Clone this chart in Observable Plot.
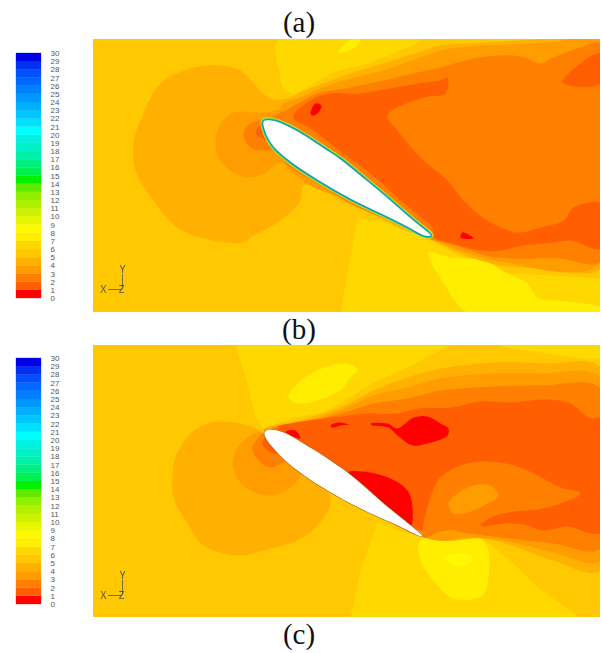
<!DOCTYPE html>
<html><head><meta charset="utf-8">
<script src="https://cdn.jsdelivr.net/npm/d3@7"></script>
<script src="https://cdn.jsdelivr.net/npm/@observablehq/plot@0.6"></script>
<style>
html,body{margin:0;padding:0;background:#fff}
#page{position:relative;width:602px;height:653px;overflow:hidden}
.cap{position:absolute;left:0;width:598px;text-align:center;font:29px "Liberation Serif",serif;color:#111;line-height:30px}
</style></head><body><div id="page"></div>
<script>
// colour-bar bands 0..29 and tick labels
const bands = d3.range(30);
const bandColors = ["#ff0000","#ff5f00","#ff8000","#ff9c00","#ffb000","#ffc800","#ffd800","#ffee00","#fff800",
 "#e6f600","#ccf200","#b0f000","#90f000","#60ea00","#00f000","#00f050","#00f080","#00f0a8","#00f0c8","#00f0e0",
 "#00ffff","#00e0ff","#00c8ff","#00b0ff","#0098ff","#0080ff","#0068ff","#0050ff","#0030f0","#0000e8"];
const barTicks = d3.range(31);
const captions = ["(a)","(b)","(c)"];

// Panel (a) contour bands: [x, y]
const aUpperYellow = [[278,39],[420,39],[393,53],[360,65],[333,72],[307,87],[293,93],[283,88],[280,77]];
const aUpperBright = [[338,52],[347,41],[360,39],[353,48]];
const aLowerYellow = [[357,218],[385,222],[410,232],[431,241],[460,256],[500,272],[550,275],[600,278],[600,312],[340,312]];
const aLowerBright = [[428,252],[450,257],[483,260],[507,273],[527,283],[537,297],[557,300],[600,307],[600,312],[467,312],[445,285]];
const aBand4 = [[133,142],[140,120],[160,83],[190,68],[220,65],[240,70],[253,83],[270,98],[287,98],[300,92],[317,85],[350,73],[383,63],[417,52],[440,45],[470,43],[500,41],[540,39],[600,39],[600,268],[550,268],[500,265],[460,253],[430,239],[400,228],[370,212],[340,200],[320,188],[303,185],[300,200],[280,220],[250,237],[243,242],[203,238],[177,227],[153,200],[135,170]];
const aBand3 = [[215,142],[220,123],[233,112],[263,112],[280,108],[283,103],[300,97],[320,88],[350,78],[383,70],[417,58],[440,50],[470,46],[510,44],[550,42],[600,40],[600,263],[500,261],[460,250],[430,238],[400,224],[370,208],[340,197],[310,185],[290,170],[280,162],[263,173],[247,177],[230,170],[218,157]];
const aBand2 = [[243,135],[247,125],[257,120],[263,119],[285,110],[297,103],[317,93],[350,87],[383,80],[417,72],[440,67],[473,58],[513,55],[527,58],[540,63],[553,57],[580,47],[600,43],[600,261],[560,258],[510,258],[490,256],[455,245],[425,237],[385,219],[350,203],[320,185],[290,167],[272,150],[260,150],[250,147]];
const aBand1Wake = [[295,112],[313,98],[330,93],[357,93],[390,88],[417,83],[440,80],[447,77],[445,93],[423,97],[387,115],[397,130],[420,157],[447,180],[463,200],[487,220],[517,232],[540,227],[563,220],[573,207],[600,203],[600,248],[570,240],[553,242],[523,245],[500,250],[480,250],[452,243],[432,236],[432,228],[400,200],[370,173],[340,151],[310,128],[293,118]];
const aBand1Corner = [[562,82],[580,63],[600,53],[600,83]];
const aBand1Nose = [[255,133],[260,125],[263,125],[270,142],[262,138]];
const aRedSpot = [[310,113],[315,103],[321,105],[317,113],[312,115]];
const aRedTick = [[460,237],[462,232],[468,234],[473,238]];
const aFoil = [[262,123],[263,120],[267,119],[275,120],[283,123],[297,130],[310,138],[325,148],[340,158],[367,180],[385,195],[400,208],[415,221],[431,235],[425,236],[405,226],[383,215],[350,199],[317,180],[290,162],[273,147],[266,136],[263,128]];

// Panel (b) contour bands
const bUpperYellow = [[235,345],[450,345],[433,353],[407,367],[373,382],[340,403],[323,412],[290,418],[263,428],[255,417],[247,383]];
const bRightYellow = [[500,345],[600,345],[600,357],[540,352]];
const bUpperBright = [[288,397],[297,383],[317,370],[340,363],[353,365],[357,370],[350,377],[340,390],[323,398],[297,403]];
const bLowerYellow = [[378,520],[395,530],[423,537],[487,542],[513,563],[537,587],[580,617],[350,617],[360,570]];
const bLowerBright = [[420,540],[483,540],[488,577],[482,595],[453,598],[433,580],[420,560]];
const bLowerBrighter = [[442,557],[457,553],[470,555],[473,560],[460,567],[450,563]];
const bNose4 = [[172,477],[175,457],[190,433],[210,422],[233,422],[253,427],[263,433],[330,497],[323,517],[303,537],[270,548],[237,555],[203,545],[187,523],[173,497]];
const bNose3 = [[232,463],[237,447],[250,435],[260,432],[300,472],[290,487],[270,495],[250,490],[237,478]];
const bNose2 = [[252,448],[257,438],[263,433],[285,458],[270,467],[258,460]];
const bNose1 = [[262,443],[265,437],[280,452],[270,452]];
const bBand4 = [[263,430],[300,420],[340,407],[373,390],[407,377],[440,368],[493,362],[547,363],[600,367],[600,570],[553,560],[520,548],[483,538],[427,538]];
const bBand3 = [[268,430],[300,422],[340,410],[373,395],[407,387],[440,378],[493,373],[540,373],[600,377],[600,560],[553,552],[503,540],[470,537],[427,538]];
const bBand2 = [[270,430],[300,423],[340,413],[373,403],[407,398],[440,390],[493,386],[540,385],[600,388],[600,548],[553,543],[500,537],[463,532],[440,528],[427,533]];
const bBand1 = [[277,427],[290,423],[323,418],[340,416],[367,413],[397,413],[417,408],[450,407],[480,401],[507,402],[547,399],[570,403],[590,418],[600,418],[600,532],[587,532],[567,526],[543,530],[523,524],[503,523],[480,525],[470,510],[440,500],[426,530],[416,528],[340,480]];
const bIsland2 = [[423,537],[430,497],[440,477],[467,463],[500,462],[527,470],[560,487],[580,493],[547,507],[507,512],[490,517],[478,525],[460,528],[437,532]];
const bIsland3 = [[448,503],[457,493],[473,485],[490,485],[498,495],[487,503],[467,512],[453,513]];
const bRedFoil = [[347,472],[363,471],[390,478],[407,490],[412,507],[410,526],[400,520],[347,480]];
const bRedBlob = [[370,423],[387,423],[397,428],[413,417],[427,416],[440,423],[448,428],[447,435],[427,443],[412,445],[397,435],[388,427],[372,425]];
const bRedDash = [[330,425],[338,422],[348,424],[340,425],[332,427]];
const bRedNose = [[285,431],[295,430],[300,438],[295,437]];
const bFoil = [[264,432],[266,430],[270,429],[283,432],[303,443],[347,472],[383,503],[422,536],[393,523],[360,508],[327,490],[293,467],[275,450],[265,437]];

const colorScale = {type:"ordinal",domain:bands,range:bandColors};
const region = (band,pts) => {
  const straight = pts===aLowerYellow||pts===bLowerYellow||pts===bUpperYellow;
  return Plot.line(pts,{x:d=>d[0],y:d=>d[1],z:null,fill:()=>band,stroke:null,curve:straight?"linear-closed":"catmull-rom-closed"});
};

function field(top,bottom,regions,foilMarks,triad){
  const f = Plot.plot({
    width:507,height:bottom-top,marginTop:0,marginRight:0,marginBottom:0,marginLeft:0,
    x:{domain:[93,600],axis:null},y:{domain:[bottom,top],axis:null},
    color:colorScale,
    style:{position:"absolute",left:"93px",top:top+"px",background:bandColors[5],filter:"blur(0.55px)"},
    marks:[
      ...regions.map(([b,p])=>region(b,p)),
      ...foilMarks,
      Plot.ruleX([122],{y1:triad.y-15,y2:triad.y,stroke:"#555",strokeWidth:0.8}),
      Plot.ruleY([triad.y],{x1:108,x2:122,stroke:"#555",strokeWidth:0.8}),
      Plot.text(["Y"],{x:[122],y:[triad.y-20],text:d=>d,fontSize:10,fill:"#555"}),
      Plot.text(["X"],{x:[103],y:[triad.y],text:d=>d,fontSize:10,fill:"#555"}),
      Plot.text(["Z"],{x:[121],y:[triad.y],text:d=>d,fontSize:10,fill:"#555"})
    ]});
  document.getElementById("page").appendChild(f);
}
function colorBar(top,bottom){
  const f = Plot.plot({
    width:70,height:bottom-top+16,marginTop:8,marginBottom:8,marginLeft:16,marginRight:29,
    x:{domain:[0,1],axis:null},y:{domain:[0,30],axis:null},color:colorScale,
    style:{position:"absolute",left:"0px",top:(top-8)+"px",background:"transparent",fontFamily:"'Liberation Sans',sans-serif"},
    marks:[
      Plot.rect(bands,{x1:()=>0,x2:()=>1,y1:d=>d,y2:d=>d+1,fill:d=>d,stroke:d=>d,strokeWidth:0.3}),
      Plot.text(barTicks,{x:()=>1,y:d=>d,text:d=>String(d),dx:9,textAnchor:"start",fontSize:8,fill:"#555"})
    ]});
  document.getElementById("page").appendChild(f);
}
const foilA = [
  Plot.line(aFoil,{x:d=>d[0],y:d=>d[1],stroke:"#ffe000",strokeWidth:4.2,curve:"catmull-rom-closed"}),
  Plot.line(aFoil,{x:d=>d[0],y:d=>d[1],stroke:"#50e070",strokeWidth:3,curve:"catmull-rom-closed"}),
  Plot.line(aFoil,{x:d=>d[0],y:d=>d[1],fill:"#ffffff",stroke:"#18a0b0",strokeWidth:1.6,curve:"catmull-rom-closed"})
];
const foilB = [
  Plot.line(bFoil,{x:d=>d[0],y:d=>d[1],stroke:"#a85a10",strokeWidth:1.2,curve:"catmull-rom-closed"}),
  Plot.line(bFoil,{x:d=>d[0],y:d=>d[1],fill:"#ffffff",curve:"catmull-rom-closed"})
];
colorBar(53,298);
field(39,312,[[6,aUpperYellow],[7,aUpperBright],[6,aLowerYellow],[7,aLowerBright],[4,aBand4],[3,aBand3],[2,aBand2],[1,aBand1Wake],[1,aBand1Corner],[1,aBand1Nose],[0,aRedSpot],[0,aRedTick]],foilA,{y:289});
colorBar(358,604);
field(345,617,[[6,bUpperYellow],[6,bRightYellow],[7,bUpperBright],[6,bLowerYellow],[7,bLowerBright],[8,bLowerBrighter],[4,bNose4],[3,bNose3],[2,bNose2],[1,bNose1],[4,bBand4],[3,bBand3],[2,bBand2],[1,bBand1],[2,bIsland2],[3,bIsland3],[0,bRedFoil],[0,bRedBlob],[0,bRedDash],[0,bRedNose]],foilB,{y:595});
[7,314,619].forEach((t,i)=>{
  const c=document.createElement("div");c.className="cap";c.style.top=t+"px";c.textContent=captions[i];
  document.getElementById("page").appendChild(c);
});
</script></body></html>
